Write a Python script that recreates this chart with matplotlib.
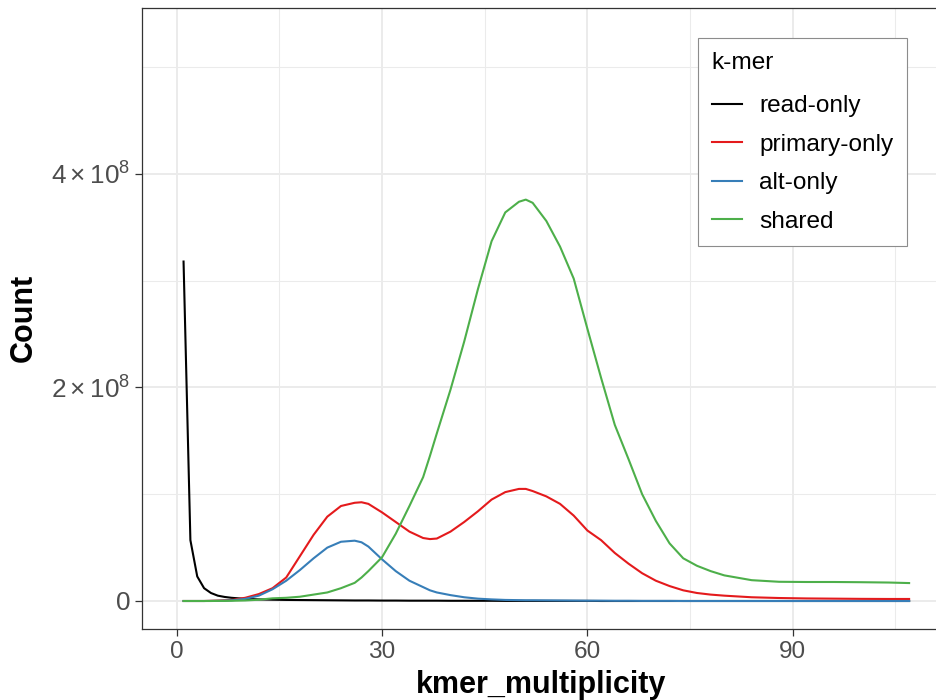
import numpy as np
import matplotlib
matplotlib.use("Agg")
import matplotlib.pyplot as plt
from matplotlib.ticker import FuncFormatter, MultipleLocator

# k-mer multiplicity values (x) and counts in units of 1e8
mult = [1, 2, 3, 4, 5, 6, 7, 8, 10, 12, 14, 16, 18, 20, 22, 24, 26, 27, 28,
        30, 32, 34, 36, 37, 38, 40, 42, 44, 46, 48, 50, 51, 52, 54, 56, 58,
        60, 62, 64, 66, 68, 70, 72, 74, 76, 78, 80, 84, 88, 92, 96, 100, 104, 107]

read_only = [3.18, 0.57, 0.23, 0.12, 0.075, 0.05, 0.038, 0.03, 0.02, 0.015, 0.012,
             0.01, 0.009, 0.008, 0.007, 0.006, 0.005, 0.005, 0.005, 0.004, 0.004,
             0.003, 0.003, 0.003, 0.003, 0.002, 0.002, 0.002, 0.002, 0.001, 0.001,
             0.001, 0.001, 0.001, 0.001, 0.001, 0.001, 0.0, 0.0, 0.0, 0.0, 0.0,
             0.0, 0.0, 0.0, 0.0, 0.0, 0.0, 0.0, 0.0, 0.0, 0.0, 0.0, 0.0]

primary_only = [0.0, 0.0, 0.0, 0.0, 0.002, 0.004, 0.007, 0.01, 0.03, 0.065, 0.12,
                0.22, 0.42, 0.62, 0.79, 0.89, 0.92, 0.925, 0.91, 0.83, 0.74, 0.65,
                0.59, 0.58, 0.585, 0.65, 0.74, 0.84, 0.95, 1.02, 1.05, 1.05, 1.03,
                0.98, 0.91, 0.80, 0.66, 0.57, 0.45, 0.35, 0.26, 0.19, 0.14, 0.10,
                0.075, 0.06, 0.05, 0.035, 0.028, 0.024, 0.022, 0.02, 0.019, 0.019]

alt_only = [0.0, 0.0, 0.0, 0.0, 0.001, 0.002, 0.004, 0.006, 0.02, 0.05, 0.11, 0.19,
            0.29, 0.40, 0.50, 0.555, 0.565, 0.55, 0.51, 0.39, 0.28, 0.19, 0.13,
            0.10, 0.08, 0.055, 0.035, 0.022, 0.015, 0.01, 0.008, 0.007, 0.007,
            0.006, 0.005, 0.004, 0.003, 0.003, 0.002, 0.002, 0.001, 0.001, 0.001,
            0.0, 0.0, 0.0, 0.0, 0.0, 0.0, 0.0, 0.0, 0.0, 0.0, 0.0]

shared = [0.0, 0.0, 0.0, 0.0, 0.0, 0.001, 0.001, 0.002, 0.005, 0.012, 0.025, 0.03,
          0.04, 0.06, 0.08, 0.12, 0.17, 0.22, 0.28, 0.41, 0.63, 0.89, 1.16, 1.36,
          1.57, 1.98, 2.43, 2.92, 3.37, 3.64, 3.74, 3.76, 3.73, 3.56, 3.32, 3.02,
          2.55, 2.09, 1.65, 1.33, 1.00, 0.75, 0.54, 0.40, 0.33, 0.28, 0.24, 0.195,
          0.18, 0.178, 0.178, 0.176, 0.173, 0.168]

labels = ["read-only", "primary-only", "alt-only", "shared"]
colors = ["#000000", "#E41A1C", "#377EB8", "#4DAF4A"]

plt.rcParams['font.family'] = ['Liberation Sans', 'DejaVu Sans']
plt.rcParams['mathtext.fontset'] = 'custom'
plt.rcParams['mathtext.rm'] = 'Liberation Sans'
plt.rcParams['mathtext.it'] = 'Liberation Sans:italic'
plt.rcParams['mathtext.bf'] = 'Liberation Sans:bold'

W, H = 936, 700
fig = plt.figure(figsize=(W / 100, H / 100), dpi=100)
# panel in pixels: left 142, right 941 (runs off the canvas), top 8, bottom 628.7
ax = fig.add_axes([142 / W, (H - 628.7) / H, (941 - 142) / W, (628.7 - 8) / H])

x = np.array(mult)
for series, lab, col in zip([read_only, primary_only, alt_only, shared], labels, colors):
    ax.plot(x, np.array(series) * 1e8, color=col, lw=1.5, label=lab, zorder=3)

ax.set_xlim(-5.07, -5.07 + (941 - 142) / 6.845)
ax.set_ylim(-0.2595e8, 5.555e8)

ax.xaxis.set_major_locator(MultipleLocator(30))
ax.xaxis.set_minor_locator(MultipleLocator(15))
ax.yaxis.set_major_locator(MultipleLocator(2e8))
ax.yaxis.set_minor_locator(MultipleLocator(1e8))


def sci(v, pos):
    if abs(v) < 1:
        return "0"
    return r"$%d\times10^{8}$" % round(v / 1e8)


ax.yaxis.set_major_formatter(FuncFormatter(sci))

ax.grid(which='major', color='#EBEBEB', lw=1.4, zorder=0)
ax.grid(which='minor', color='#EBEBEB', lw=0.75, zorder=0)
ax.set_axisbelow(True)
ax.tick_params(which='minor', length=0)
ax.tick_params(which='major', length=5, width=0.9, color='#333333',
               labelsize=17.6, labelcolor='#4D4D4D', pad=3.5)
ax.tick_params(axis='y', labelsize=18.8)
for s in ax.spines.values():
    s.set_color('#333333')
    s.set_linewidth(0.9)

ax.set_xlabel('kmer_multiplicity', fontsize=22, fontweight='bold')
ax.set_ylabel('Count', fontsize=22, fontweight='bold')
ax.xaxis.set_label_coords(0.5, -0.066)
ax.yaxis.set_label_coords(-0.129, 0.5)

leg = ax.legend(title='k-mer', loc='upper left',
                bbox_to_anchor=(698.3 / W, 1 - 38.3 / H), bbox_transform=fig.transFigure,
                fontsize=17.6, title_fontsize=17.6, alignment='left',
                frameon=True, fancybox=False, framealpha=1,
                handlelength=1.25, handletextpad=0.7, labelspacing=0.67,
                borderpad=0.55, borderaxespad=0)
leg._legend_box.sep = 15.4
leg.get_frame().set_edgecolor('#8C8C8C')
leg.get_frame().set_linewidth(0.8)

fig.savefig('out.png', dpi=100)
